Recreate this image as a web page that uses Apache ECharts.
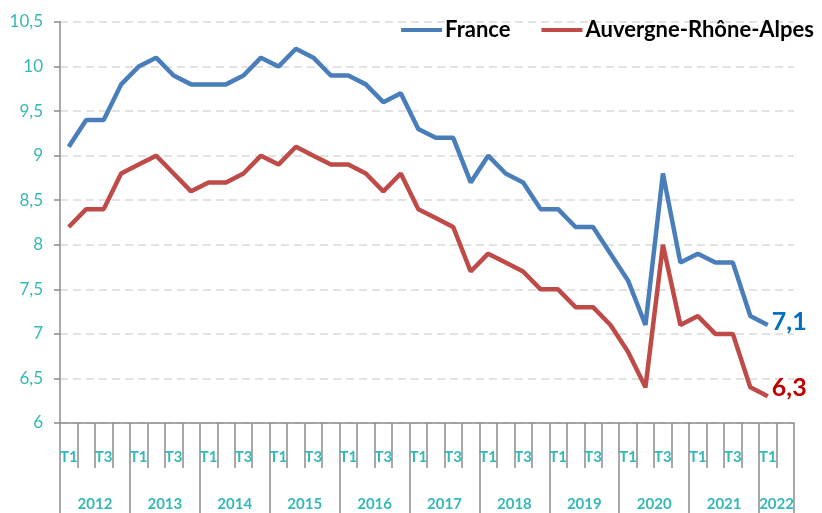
<!DOCTYPE html>
<html>
<head>
<meta charset="utf-8">
<script src="https://cdn.jsdelivr.net/npm/echarts@6/dist/echarts.min.js"></script>
<style>
  html, body { margin: 0; padding: 0; background: #fff; }
  #chart { width: 822px; height: 513px; }
</style>
</head>
<body>
<div id="chart"></div>
<script>
// taux de chômage trimestriel, T1 2012 -> T1 2022
var years = ['2012', '2013', '2014', '2015', '2016', '2017', '2018', '2019', '2020', '2021', '2022'];
var quarterNames = ['T1', 'T2', 'T3', 'T4'];

var france = [
  9.1, 9.4, 9.4, 9.8,
  10.0, 10.1, 9.9, 9.8,
  9.8, 9.8, 9.9, 10.1,
  10.0, 10.2, 10.1, 9.9,
  9.9, 9.8, 9.6, 9.7,
  9.3, 9.2, 9.2, 8.7,
  9.0, 8.8, 8.7, 8.4,
  8.4, 8.2, 8.2, 7.9,
  7.6, 7.1, 8.8, 7.8,
  7.9, 7.8, 7.8, 7.2,
  7.1
];
var auvergneRhoneAlpes = [
  8.2, 8.4, 8.4, 8.8,
  8.9, 9.0, 8.8, 8.6,
  8.7, 8.7, 8.8, 9.0,
  8.9, 9.1, 9.0, 8.9,
  8.9, 8.8, 8.6, 8.8,
  8.4, 8.3, 8.2, 7.7,
  7.9, 7.8, 7.7, 7.5,
  7.5, 7.3, 7.3, 7.1,
  6.8, 6.4, 8.0, 7.1,
  7.2, 7.0, 7.0, 6.4,
  6.3
];

// 2022 n'a que deux trimestres sur l'axe (T1, T2)
var categories = [];
var quarterLabels = [];
var yearLabels = [];
years.forEach(function (y) {
  var n = (y === '2022') ? 2 : 4;
  for (var q = 0; q < n; q++) {
    categories.push(y + ' ' + quarterNames[q]);
    quarterLabels.push(quarterNames[q]);
    yearLabels.push(y);
  }
});

var teal = '#35b8b8';
var grey = '#8c8c8c';
var font = 'Lato';

function comma(v) {
  return String(v).replace('.', ',');
}

var chart = echarts.init(document.getElementById('chart'));
chart.setOption({
  animation: false,
  backgroundColor: '#fff',
  textStyle: { fontFamily: font },
  grid: { left: 60, right: 28, top: 22, bottom: 90, containLabel: false },
  legend: {
    top: 14,
    right: 3,
    itemWidth: 41,
    itemHeight: 4,
    itemGap: 31,
    icon: 'rect',
    textStyle: { color: '#000', fontSize: 22, fontWeight: 'bold', fontFamily: font, padding: [0, 0, 0, -2] },
    data: ['France', 'Auvergne-Rhône-Alpes']
  },
  xAxis: [
    {
      type: 'category',
      data: categories,
      boundaryGap: true,
      axisLine: { show: true, lineStyle: { color: grey, width: 1.5 } },
      axisTick: { show: true, interval: 0, length: 45, lineStyle: { color: grey, width: 1.5 } },
      axisLabel: {
        interval: 0,
        margin: 27,
        color: teal,
        fontSize: 15,
        fontWeight: 'bold',
        formatter: function (v, i) {
          return (i % 2 === 0) ? quarterLabels[i] : '';
        }
      },
      splitLine: { show: false }
    },
    {
      type: 'category',
      data: categories,
      position: 'bottom',
      boundaryGap: true,
      axisLine: { show: false },
      axisTick: {
        show: true,
        interval: function (i) { return i % 4 === 0; },
        length: 95,
        lineStyle: { color: grey, width: 1.5 }
      },
      axisLabel: {
        interval: function (i) { return i % 4 === 1 || i === 40; },
        margin: 74,
        color: teal,
        fontSize: 15,
        fontWeight: 'bold',
        padding: [0, 0, 0, 17.5],
        formatter: function (v, i) { return yearLabels[i]; }
      },
      splitLine: { show: false }
    }
  ],
  yAxis: {
    type: 'value',
    min: 6,
    max: 10.5,
    interval: 0.5,
    axisLine: { show: true, lineStyle: { color: grey, width: 1.5 } },
    axisTick: { show: true, length: 6, lineStyle: { color: grey, width: 1.5 } },
    axisLabel: {
      color: teal,
      fontSize: 17,
      margin: 17,
      formatter: function (v) { return comma(v); }
    },
    splitLine: { lineStyle: { color: '#d9d9d9', type: [8, 5], width: 1.5 } }
  },
  series: [
    {
      name: 'France',
      type: 'line',
      data: france,
      symbol: 'none',
      color: '#4a7ebb',
      lineStyle: { width: 4.5, color: '#4a7ebb' },
      endLabel: {
        show: true,
        distance: 4,
        color: '#0070c0',
        fontSize: 25,
        fontWeight: 'bold',
        fontFamily: font,
        offset: [0, -3],
        formatter: function (p) { return comma(p.value); }
      }
    },
    {
      name: 'Auvergne-Rhône-Alpes',
      type: 'line',
      data: auvergneRhoneAlpes,
      symbol: 'none',
      color: '#be4b48',
      lineStyle: { width: 4.5, color: '#be4b48' },
      endLabel: {
        show: true,
        distance: 4,
        color: '#c00000',
        fontSize: 25,
        fontWeight: 'bold',
        fontFamily: font,
        offset: [0, -8],
        formatter: function (p) { return comma(p.value); }
      }
    }
  ]
});
</script>
</body>
</html>
